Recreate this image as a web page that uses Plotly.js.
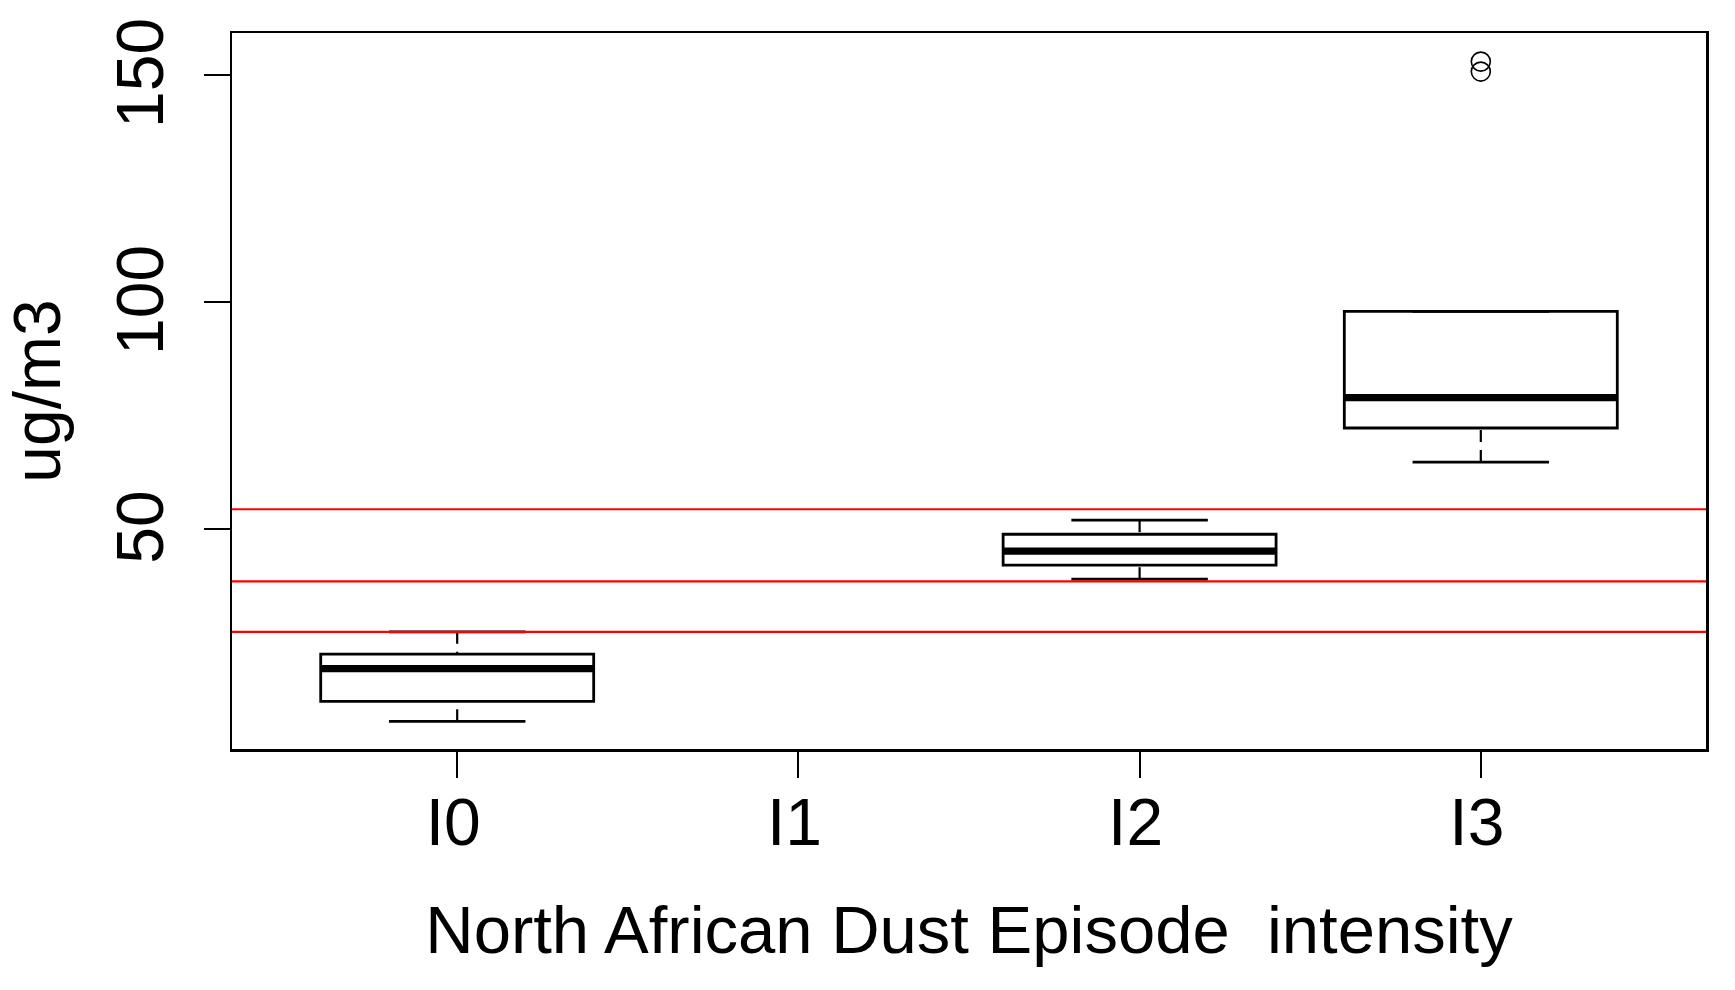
<!DOCTYPE html>
<html>
<head>
<meta charset="utf-8">
<script src="https://cdn.plot.ly/plotly-3.0.1.min.js"></script>
<style>
  html, body { margin: 0; padding: 0; background: #ffffff; }
  #chart { width: 1735px; height: 990px; }
</style>
</head>
<body>
<div id="chart"></div>
<script>
// ---- data ----
const categories = ['I0', 'I1', 'I2', 'I3'];
const boxCategories = ['I0', 'I2', 'I3'];
const lowerWhisker = [7.6, 38.9, 64.7];
const q1Values = [12.0, 42.0, 72.2];
const medianValues = [19.2, 45.1, 78.9];
const q3Values = [22.4, 48.8, 97.9];
const upperWhisker = [27.3, 51.9, 97.9];
const outlierCategories = ['I3', 'I3'];
const outlierValues = [152.9, 150.7];
const referenceLines = [54.3, 38.4, 27.3];
const yTicks = [50, 100, 150];

// ---- build traces ----
const BOX_WIDTH = 0.8;
const STAPLE_WIDTH = 0.4;
const pos = c => categories.indexOf(c) + 1;
const boxX = boxCategories.map(pos);

// box body (whiskers are drawn separately, dashed as in R's boxplot)
const boxTrace = {
  type: 'box',
  x: boxX,
  q1: q1Values,
  median: medianValues,
  q3: q3Values,
  lowerfence: q1Values,
  upperfence: q3Values,
  width: BOX_WIDTH,
  whiskerwidth: 0,
  boxpoints: false,
  fillcolor: 'rgba(255,255,255,0)',
  line: { color: '#000000', width: 2.8 },
  hoverinfo: 'skip',
  showlegend: false
};

// whiskers: drawn from the whisker end toward the box (dash phase as in R)
const whX = [], whY = [];
boxX.forEach((x, i) => {
  whX.push(x, x, null, x, x, null);
  whY.push(lowerWhisker[i], q1Values[i], null, upperWhisker[i], q3Values[i], null);
});
const whiskerTrace = {
  type: 'scatter', mode: 'lines',
  x: whX, y: whY,
  line: { color: '#000000', width: 2.2, dash: '12px,8px' },
  hoverinfo: 'skip', showlegend: false
};

// staples
const stX = [], stY = [];
boxX.forEach((x, i) => {
  stX.push(x - STAPLE_WIDTH / 2, x + STAPLE_WIDTH / 2, null, x - STAPLE_WIDTH / 2, x + STAPLE_WIDTH / 2, null);
  stY.push(lowerWhisker[i], lowerWhisker[i], null, upperWhisker[i], upperWhisker[i], null);
});
const stapleTrace = {
  type: 'scatter', mode: 'lines',
  x: stX, y: stY,
  line: { color: '#000000', width: 2.8 },
  hoverinfo: 'skip', showlegend: false
};

// thick median
const medX = [], medY = [];
boxX.forEach((x, i) => {
  medX.push(x - BOX_WIDTH / 2, x + BOX_WIDTH / 2, null);
  medY.push(medianValues[i], medianValues[i], null);
});
const medianTrace = {
  type: 'scatter', mode: 'lines',
  x: medX, y: medY,
  line: { color: '#000000', width: 7.3 },
  hoverinfo: 'skip', showlegend: false
};

const outlierTrace = {
  type: 'scatter', mode: 'markers',
  x: outlierCategories.map(pos), y: outlierValues,
  marker: { symbol: 'circle-open', size: 19, color: '#000000', line: { width: 1.6, color: '#000000' } },
  hoverinfo: 'skip', showlegend: false
};

const shapes = referenceLines.map(v => ({
  type: 'line', xref: 'paper', yref: 'y', x0: 0, x1: 1, y0: v, y1: v,
  line: { color: '#ff0000', width: 2.2 }, layer: 'above'
}));

const fontFamily = 'Arial, "Liberation Sans", Helvetica, sans-serif';
const layout = {
  width: 1735, height: 990,
  margin: { l: 232, r: 29, t: 33, b: 241 },
  paper_bgcolor: '#ffffff', plot_bgcolor: '#ffffff',
  font: { family: fontFamily, size: 66, color: '#000000' },
  showlegend: false,
  xaxis: {
    range: [0.34, 4.66],
    tickmode: 'array',
    tickvals: categories.map(pos),
    ticktext: categories,
    ticks: 'outside', ticklen: 26, tickwidth: 2, tickcolor: '#000000',
    ticklabelstandoff: -12,
    ticklabelshift: -4,
    showgrid: false, zeroline: false,
    showline: true, mirror: true, linecolor: '#000000', linewidth: 2.5,
    tickfont: { family: fontFamily, size: 66, color: '#000000' },
    title: { text: 'North African Dust Episode  intensity', standoff: 49,
             font: { family: fontFamily, size: 67, color: '#000000' } }
  },
  yaxis: {
    range: [1.5, 159.2],
    tickmode: 'array',
    tickvals: yTicks,
    ticktext: yTicks.map(String),
    tickangle: -90,
    ticks: 'outside', ticklen: 26, tickwidth: 2, tickcolor: '#000000',
    ticklabelstandoff: 14,
    ticklabelshift: 8,
    showgrid: false, zeroline: false,
    showline: true, mirror: true, linecolor: '#000000', linewidth: 2.5,
    tickfont: { family: fontFamily, size: 66, color: '#000000' },
    title: { text: 'ug/m3', standoff: 36,
             font: { family: fontFamily, size: 66, color: '#000000' } }
  },
  shapes: shapes
};

Plotly.newPlot('chart', [boxTrace, whiskerTrace, stapleTrace, medianTrace, outlierTrace], layout,
  { displayModeBar: false, staticPlot: true });
</script>
</body>
</html>
